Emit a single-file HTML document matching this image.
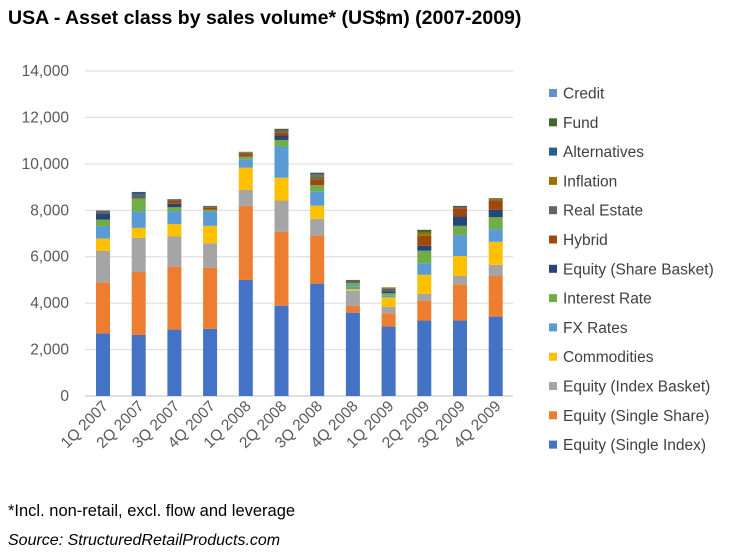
<!DOCTYPE html>
<html><head><meta charset="utf-8"><style>
body{margin:0;background:#fff;font-family:"Liberation Sans",Arial,sans-serif;}
svg text{font-family:"Liberation Sans",Arial,sans-serif;}
</style></head><body>
<svg id="chart" width="747" height="555">
<text x="8" y="24" font-size="19.5" font-weight="bold" fill="#000">USA - Asset class by sales volume* (US$m) (2007-2009)</text>
<g id="grid"></g><g id="bars"></g><g id="axis"></g><g id="legend"></g>
<text x="8" y="516" font-size="16.5" fill="#000">*Incl. non-retail, excl. flow and leverage</text>
<text x="8" y="545" font-size="16" font-style="italic" fill="#000">Source: StructuredRetailProducts.com</text>
</svg>
<script>
const categories=["1Q 2007","2Q 2007","3Q 2007","4Q 2007","1Q 2008","2Q 2008","3Q 2008","4Q 2008","1Q 2009","2Q 2009","3Q 2009","4Q 2009"];
const seriesNames=["Equity (Single Index)","Equity (Single Share)","Equity (Index Basket)","Commodities","FX Rates","Interest Rate","Equity (Share Basket)","Hybrid","Real Estate","Inflation","Alternatives","Fund","Credit"];
const seriesColors=["#4472C4","#ED7D31","#A5A5A5","#FFC000","#5B9BD5","#70AD47","#264478","#9E480E","#636363","#997300","#255E91","#43682B","#698ED0"];
const singleIndex=[2700,2630,2860,2890,5000,3890,4840,3590,2990,3250,3250,3420];
const singleShare=[2200,2710,2710,2640,3190,3190,2070,290,570,860,1560,1750];
const indexBasket=[1350,1470,1300,1050,690,1340,720,650,290,290,360,480];
const commodities=[530,430,540,750,960,980,570,70,400,820,860,990];
const fxRates=[540,710,540,620,360,1350,620,110,70,500,900,550];
const interestRate=[280,550,180,70,110,280,260,150,110,540,400,510];
const shareBasket=[270,0,150,0,0,190,0,0,70,210,400,320];
const hybrid=[0,0,120,110,110,140,230,0,0,430,360,400];
const realEstate=[120,200,80,60,60,80,120,140,140,0,50,0];
const inflation=[0,0,0,0,40,0,100,0,40,140,0,50];
const alternatives=[0,90,0,0,0,0,90,0,0,0,0,0];
const fund=[0,0,0,0,0,70,0,0,0,120,50,50];
const credit=[0,0,0,0,0,0,0,0,0,0,0,0];
const yTicks=[0,2000,4000,6000,8000,10000,12000,14000];
const series=[singleIndex,singleShare,indexBasket,commodities,fxRates,interestRate,shareBasket,hybrid,realEstate,inflation,alternatives,fund,credit];
const NS="http://www.w3.org/2000/svg";
const y0=396,yTop=71,yMax=14000,xStart=103,step=35.7,bw=14;
const yS=v=>y0-(v/yMax)*(y0-yTop);
const xS=i=>xStart+i*step;
function mk(t,a,p){const e=document.createElementNS(NS,t);for(const k in a)e.setAttribute(k,a[k]);p.appendChild(e);return e;}
const grid=document.getElementById('grid'),axis=document.getElementById('axis'),bars=document.getElementById('bars'),leg=document.getElementById('legend');
yTicks.forEach(v=>{
 const l=mk('line',{x1:85,x2:513,y1:yS(v),y2:yS(v),stroke:v===0?'#BFBFBF':'#D9D9D9','stroke-width':1},grid);
 
 
 const t=mk('text',{x:69,y:yS(v)+5,'text-anchor':'end','font-size':15.5,fill:'#595959'},axis);
 t.textContent=v.toLocaleString('en-US');
 
 
});
categories.forEach((c,i)=>{
 let acc=0;
 series.forEach((s,k)=>{
  const v=s[i];if(!v)return;
  const r=mk('rect',{x:xS(i)-bw/2,y:yS(acc+v),width:bw,height:yS(acc)-yS(acc+v),fill:seriesColors[k]},bars);
  
  
  acc+=v;
 });
 const t=mk('text',{x:xS(i)+6,y:407,'text-anchor':'end','font-size':15.5,fill:'#595959',transform:`rotate(-45 ${xS(i)+6} 407)`},axis);
 t.textContent=c;
 
 
});
for(let k=seriesNames.length-1;k>=0;k--){
 const idx=seriesNames.length-1-k;
 const yy=93+idx*29.3;
 const g=mk('g',{},leg);
 
 
 mk('rect',{x:549,y:yy-4,width:8,height:8,fill:seriesColors[k]},g);
 const t=mk('text',{x:563,y:yy+5.5,'font-size':15.5,fill:'#404040'},g);
 t.textContent=seriesNames[k];
}
</script>
</body></html>
